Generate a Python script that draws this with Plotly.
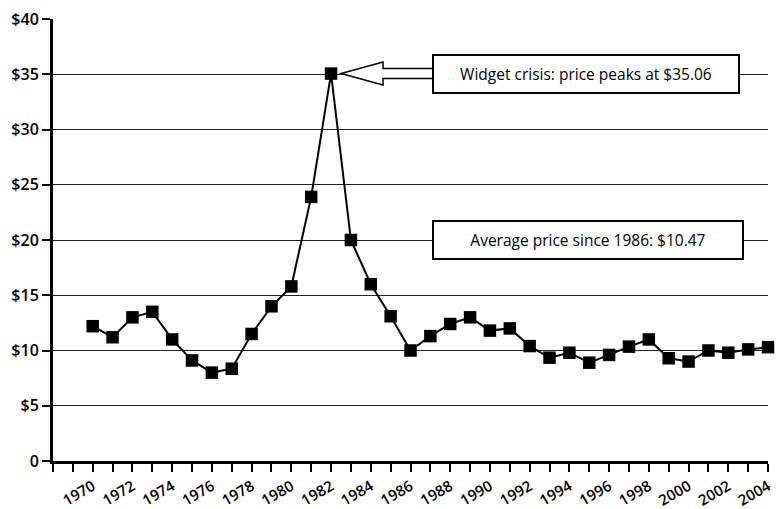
import plotly.graph_objects as go

years = list(range(1970, 2005))
prices = [12.2, 11.2, 13.0, 13.5, 11.0, 9.1, 8.0, 8.35, 11.5, 14.0,
          15.8, 23.9, 35.06, 20.0, 16.0, 13.1, 10.0, 11.3, 12.4, 13.0,
          11.8, 12.0, 10.4, 9.35, 9.8, 8.9, 9.6, 10.35, 11.0, 9.3,
          9.0, 10.0, 9.8, 10.1, 10.3]
y_ticks = [0, 5, 10, 15, 20, 25, 30, 35, 40]
y_labels = ["0", "$5", "$10", "$15", "$20", "$25", "$30", "$35", "$40"]
x_ticks = list(range(1970, 2005, 2))
peak_text = "Widget crisis: price peaks at $35.06"
avg_text = "Average price since 1986: $10.47"

W, H = 778, 509
ml, mr, mt, mb = 53, 10, 19, 48
x0, x1 = 1968, 2004
y0, y1 = 0, 40
ppx = (W - ml - mr) / (x1 - x0)   # pixels per year
ppy = (H - mt - mb) / (y1 - y0)   # pixels per dollar

FONT = "Open Sans, Lato, sans-serif"

fig = go.Figure()
fig.add_trace(go.Scatter(
    x=years, y=prices, mode="lines+markers",
    line=dict(color="black", width=2),
    marker=dict(symbol="square", size=12.5, color="black"),
    cliponaxis=False, showlegend=False, hoverinfo="x+y"))

# block arrow pointing at the peak
pk_i = prices.index(max(prices))
px_, py_ = years[pk_i], prices[pk_i]
def P(dx, dy):
    return f"{px_ + dx / ppx},{py_ - dy / ppy}"
tip = 10
head = 52
hh = 11.5
sh = 5
end = 110
path = ("M " + P(tip, 0) + " L " + P(head, -hh) + " L " + P(head, -sh) +
        " L " + P(end, -sh) + " L " + P(end, sh) + " L " + P(head, sh) +
        " L " + P(head, hh) + " Z")
fig.add_shape(type="path", path=path, xref="x", yref="y",
              fillcolor="white", line=dict(color="black", width=1.5), layer="above")

box_x = px_ + (432 - (ml + (px_ - x0) * ppx)) / ppx
fig.add_annotation(x=box_x, y=py_, xref="x", yref="y", text=peak_text,
                   showarrow=False, xanchor="left", yanchor="middle",
                   width=300, height=32, bgcolor="white", bordercolor="black",
                   borderwidth=2, borderpad=2,
                   font=dict(family=FONT, size=15.5, color="black", weight=500))
fig.add_annotation(x=box_x, y=20, xref="x", yref="y", text=avg_text,
                   showarrow=False, xanchor="left", yanchor="middle",
                   width=304, height=32, bgcolor="white", bordercolor="black",
                   borderwidth=2, borderpad=2,
                   font=dict(family=FONT, size=15.5, color="black", weight=500))

fig.update_layout(
    width=W, height=H, autosize=False,
    margin=dict(l=ml, r=mr, t=mt, b=mb, pad=0, autoexpand=False),
    paper_bgcolor="white", plot_bgcolor="white",
    showlegend=False,
    xaxis=dict(range=[x0, x1], tickvals=x_ticks, ticktext=[str(v) for v in x_ticks],
               tickangle=-30, ticks="outside", ticklen=8, tickwidth=2, tickcolor="black",
               showgrid=False, zeroline=False, showline=True, linewidth=3, linecolor="black",
               automargin=False,
               minor=dict(dtick=1, tick0=1968, ticks="outside", ticklen=8, tickwidth=2,
                          tickcolor="black", showgrid=False),
               tickfont=dict(family=FONT, size=15, color="black", weight=600)),
    yaxis=dict(range=[y0, y1], tickvals=y_ticks, ticktext=y_labels,
               ticks="outside", ticklen=8, tickwidth=2, tickcolor="black",
               showgrid=True, gridcolor="#222222", gridwidth=1, automargin=False,
               zeroline=False, showline=True, linewidth=3, linecolor="black",
               tickfont=dict(family=FONT, size=16, color="black", weight=600)),
)

fig.write_html("out.html", config={"displayModeBar": False},
               post_script="document.body.style.margin='0';"
                           "document.body.style.overflow='hidden';")
